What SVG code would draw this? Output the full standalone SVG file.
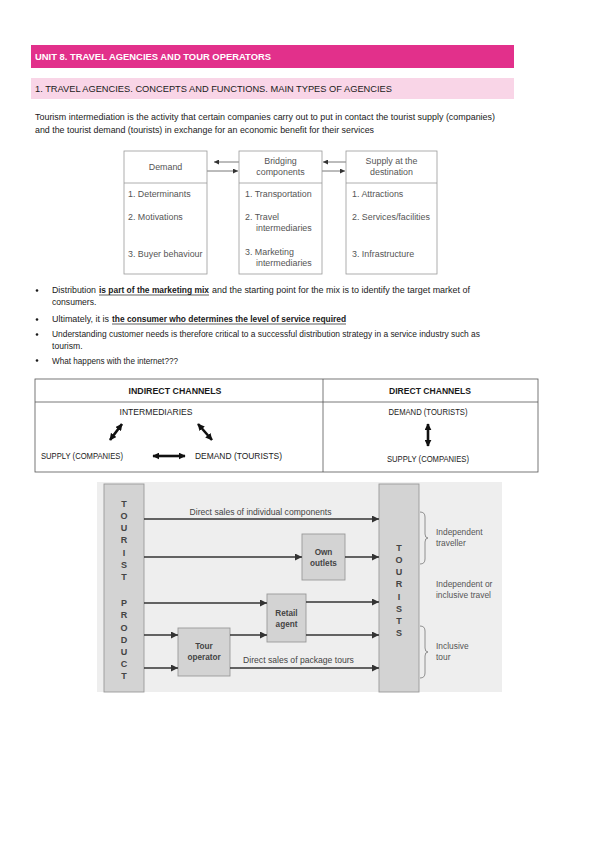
<svg xmlns="http://www.w3.org/2000/svg" width="599" height="848" viewBox="0 0 599 848">
<style>
.doc{font-family:"Liberation Sans",Arial,sans-serif;font-size:8.6px;fill:#1a1a1a}
.b{font-weight:bold}
.dg{font-family:"Liberation Sans",Arial,sans-serif;font-size:8.9px;fill:#555}
.box{fill:#fff;stroke:#999;stroke-width:0.8}
.gbox{fill:#d3d3d3;stroke:#999;stroke-width:0.9}
.gt{font-family:"Liberation Sans",Arial,sans-serif;font-size:8.6px;fill:#444;text-anchor:middle}
.rt{font-family:"Liberation Sans",Arial,sans-serif;font-size:8.4px;fill:#555}
.bt{font-family:"Liberation Sans",Arial,sans-serif;font-size:8.2px;fill:#444;font-weight:bold;text-anchor:middle}
.lt{font-family:"Liberation Sans",Arial,sans-serif;font-size:9px;fill:#444;font-weight:bold;text-anchor:middle}
.ln{stroke:#333;stroke-width:1.6;fill:none}
.tl{stroke:#555;stroke-width:0.8;fill:none}
.thick{stroke:#111;stroke-width:2.6;fill:none}
.tab{fill:none;stroke:#555;stroke-width:0.8}
</style>
<defs>
<marker id="sm" viewBox="0 0 10 10" refX="10" refY="5" markerWidth="5" markerHeight="5" orient="auto-start-reverse" markerUnits="userSpaceOnUse"><path d="M0,0L10,5L0,10z" fill="#333"/></marker>
<marker id="ar" viewBox="0 0 10 10" refX="10" refY="5" markerWidth="10" markerHeight="7" orient="auto" markerUnits="userSpaceOnUse"><path d="M0,0L10,5L0,10z" fill="#333"/></marker>
<marker id="th" viewBox="0 0 10 10" refX="9" refY="5" markerWidth="7" markerHeight="7" orient="auto-start-reverse" markerUnits="userSpaceOnUse"><path d="M0,0L10,5L0,10z" fill="#111"/></marker>
</defs>
<rect width="599" height="848" fill="#fff"/>

<g id="header1">
<rect x="31" y="45" width="483" height="23" fill="#e2308b"/>
<text x="35" y="60" class="doc b" style="fill:#fff;font-size:9px" textLength="236" lengthAdjust="spacingAndGlyphs">UNIT 8. TRAVEL AGENCIES AND TOUR OPERATORS</text>
</g>
<g id="header2">
<rect x="31" y="78" width="483" height="21" fill="#f9d5e7"/>
<text x="35" y="92" class="doc" textLength="357" lengthAdjust="spacingAndGlyphs">1. TRAVEL AGENCIES. CONCEPTS AND FUNCTIONS. MAIN TYPES OF AGENCIES</text>
</g>
<g id="intro">
<text x="35" y="120" class="doc" textLength="460" lengthAdjust="spacingAndGlyphs">Tourism intermediation is the activity that certain companies carry out to put in contact the tourist supply (companies)</text>
<text x="35" y="133" class="doc" textLength="339" lengthAdjust="spacingAndGlyphs">and the tourist demand (tourists) in exchange for an economic benefit for their services</text>
</g>

<g id="connectors-top">
<line x1="239" y1="162" x2="214" y2="162" class="tl" marker-end="url(#sm)"/>
<line x1="207" y1="171" x2="238" y2="171" class="tl" marker-end="url(#sm)"/>
<line x1="346" y1="162" x2="323" y2="162" class="tl" marker-end="url(#sm)"/>
<line x1="322" y1="171" x2="345" y2="171" class="tl" marker-end="url(#sm)"/>
</g>
<g id="demand">
<rect x="124" y="151" width="83" height="123" class="box"/>
<line x1="124" y1="183" x2="207" y2="183" class="tl" style="stroke:#999"/>
<text x="165.5" y="170" class="dg" text-anchor="middle">Demand</text>
<text x="128" y="197" class="dg">1. Determinants</text>
<text x="128" y="220" class="dg">2. Motivations</text>
<text x="128" y="257" class="dg">3. Buyer behaviour</text>
</g>
<g id="bridging">
<rect x="239" y="151" width="83" height="123" class="box"/>
<line x1="239" y1="183" x2="322" y2="183" class="tl" style="stroke:#999"/>
<text x="280.5" y="164" class="dg" text-anchor="middle">Bridging</text>
<text x="280.5" y="175" class="dg" text-anchor="middle">components</text>
<text x="245" y="197" class="dg">1. Transportation</text>
<text x="245" y="220" class="dg">2. Travel</text>
<text x="256" y="231" class="dg">intermediaries</text>
<text x="245" y="255" class="dg">3. Marketing</text>
<text x="256" y="266" class="dg">intermediaries</text>
</g>
<g id="supply">
<rect x="346" y="151" width="91" height="123" class="box"/>
<line x1="346" y1="183" x2="437" y2="183" class="tl" style="stroke:#999"/>
<text x="391.5" y="164" class="dg" text-anchor="middle">Supply at the</text>
<text x="391.5" y="175" class="dg" text-anchor="middle">destination</text>
<text x="352" y="197" class="dg">1. Attractions</text>
<text x="352" y="220" class="dg">2. Services/facilities</text>
<text x="352" y="257" class="dg">3. Infrastructure</text>
</g>

<g id="bullets">
<g fill="#1a1a1a"><circle cx="37" cy="290.5" r="1.3"/><circle cx="37" cy="319.5" r="1.3"/><circle cx="37" cy="334.5" r="1.3"/><circle cx="37" cy="360.5" r="1.3"/></g>
<text x="52" y="293" class="doc" textLength="44" lengthAdjust="spacingAndGlyphs">Distribution</text>
<text x="99" y="293" class="doc b" textLength="110" lengthAdjust="spacingAndGlyphs">is part of the marketing mix</text>
<line x1="99" y1="295" x2="209" y2="295" stroke="#1a1a1a" stroke-width="0.7"/>
<text x="212" y="293" class="doc" textLength="258" lengthAdjust="spacingAndGlyphs">and the starting point for the mix is to identify the target market of</text>
<text x="52" y="305" class="doc">consumers.</text>
<text x="52" y="322" class="doc" textLength="57" lengthAdjust="spacingAndGlyphs">Ultimately, it is</text>
<text x="112" y="322" class="doc b" textLength="234" lengthAdjust="spacingAndGlyphs">the consumer who determines the level of service required</text>
<line x1="112" y1="324" x2="346" y2="324" stroke="#1a1a1a" stroke-width="0.7"/>
<text x="52" y="337" class="doc" textLength="428" lengthAdjust="spacingAndGlyphs">Understanding customer needs is therefore critical to a successful distribution strategy in a service industry such as</text>
<text x="52" y="349" class="doc">tourism.</text>
<text x="52" y="364" class="doc" textLength="126" lengthAdjust="spacingAndGlyphs">What happens with the internet???</text>
</g>

<g id="channels-table">
<rect x="35" y="379" width="503" height="93" class="tab"/>
<line x1="35" y1="402" x2="538" y2="402" class="tab"/>
<line x1="323" y1="379" x2="323" y2="472" class="tab"/>
<text x="175" y="394" class="doc b" text-anchor="middle" textLength="93" lengthAdjust="spacingAndGlyphs">INDIRECT CHANNELS</text>
<text x="430" y="394" class="doc b" text-anchor="middle" textLength="82" lengthAdjust="spacingAndGlyphs">DIRECT CHANNELS</text>
<text x="156" y="415" class="doc" text-anchor="middle" textLength="73" lengthAdjust="spacingAndGlyphs">INTERMEDIARIES</text>
<text x="41" y="459" class="doc" textLength="82" lengthAdjust="spacingAndGlyphs">SUPPLY (COMPANIES)</text>
<text x="195" y="459" class="doc" textLength="87" lengthAdjust="spacingAndGlyphs">DEMAND (TOURISTS)</text>
<text x="428" y="415" class="doc" text-anchor="middle" textLength="79" lengthAdjust="spacingAndGlyphs">DEMAND (TOURISTS)</text>
<text x="428" y="462" class="doc" text-anchor="middle" textLength="82" lengthAdjust="spacingAndGlyphs">SUPPLY (COMPANIES)</text>
</g>
<g id="table-arrows">
<line x1="110" y1="440" x2="122" y2="424" class="thick" marker-start="url(#th)" marker-end="url(#th)"/>
<line x1="198" y1="424" x2="212" y2="440" class="thick" marker-start="url(#th)" marker-end="url(#th)"/>
<line x1="153" y1="456" x2="185" y2="456" class="thick" marker-start="url(#th)" marker-end="url(#th)"/>
<line x1="428" y1="424" x2="428" y2="446" class="thick" marker-start="url(#th)" marker-end="url(#th)"/>
</g>

<rect x="97" y="482" width="405" height="210" fill="#eeeeee"/>
<g id="tourist-product">
<rect x="104" y="484" width="40" height="208" class="gbox"/>
<g class="lt">
<text x="124" y="507">T</text><text x="124" y="519">O</text><text x="124" y="531">U</text><text x="124" y="543">R</text><text x="124" y="556">I</text><text x="124" y="568">S</text><text x="124" y="580">T</text>
<text x="124" y="606">P</text><text x="124" y="618">R</text><text x="124" y="631">O</text><text x="124" y="643">D</text><text x="124" y="655">U</text><text x="124" y="667">C</text><text x="124" y="679">T</text>
</g>
</g>
<g id="tourists">
<rect x="379" y="484" width="40" height="208" class="gbox"/>
<g class="lt">
<text x="399" y="551">T</text><text x="399" y="563">O</text><text x="399" y="575">U</text><text x="399" y="587">R</text><text x="399" y="600">I</text><text x="399" y="612">S</text><text x="399" y="624">T</text><text x="399" y="636">S</text>
</g>
</g>
<g id="own-outlets">
<rect x="302" y="534" width="43" height="46" class="gbox"/>
<text x="323.5" y="555" class="bt">Own</text>
<text x="323.5" y="566" class="bt">outlets</text>
</g>
<g id="retail-agent">
<rect x="267" y="594" width="39" height="48" class="gbox"/>
<text x="286.5" y="616" class="bt">Retail</text>
<text x="286.5" y="627" class="bt">agent</text>
</g>
<g id="tour-operator">
<rect x="178" y="628" width="52" height="48" class="gbox"/>
<text x="204" y="649" class="bt">Tour</text>
<text x="204" y="660" class="bt">operator</text>
</g>
<g id="connectors-bottom">
<line x1="144" y1="519" x2="379" y2="519" class="ln" marker-end="url(#ar)"/>
<line x1="144" y1="557" x2="302" y2="557" class="ln" marker-end="url(#ar)"/>
<line x1="345" y1="557" x2="379" y2="557" class="ln" marker-end="url(#ar)"/>
<line x1="144" y1="603" x2="267" y2="603" class="ln" marker-end="url(#ar)"/>
<line x1="306" y1="602" x2="379" y2="602" class="ln" marker-end="url(#ar)"/>
<line x1="144" y1="635" x2="178" y2="635" class="ln" marker-end="url(#ar)"/>
<line x1="230" y1="635" x2="267" y2="635" class="ln" marker-end="url(#ar)"/>
<line x1="306" y1="635" x2="379" y2="635" class="ln" marker-end="url(#ar)"/>
<line x1="144" y1="668" x2="178" y2="668" class="ln" marker-end="url(#ar)"/>
<line x1="230" y1="668" x2="379" y2="668" class="ln" marker-end="url(#ar)"/>
<text x="260.5" y="515" class="gt">Direct sales of individual components</text>
<text x="298.5" y="663" class="gt">Direct sales of package tours</text>
</g>
<g id="braces">
<path d="M420,512 Q425,512 425,517 L425,534 Q425,538 428,538 Q425,538 425,542 L425,559 Q425,564 420,564" fill="none" stroke="#777" stroke-width="0.8"/>
<path d="M420,626 Q425,626 425,631 L425,648 Q425,652 428,652 Q425,652 425,656 L425,673 Q425,678 420,678" fill="none" stroke="#777" stroke-width="0.8"/>
<text x="436" y="535" class="rt">Independent</text>
<text x="436" y="546" class="rt">traveller</text>
<text x="436" y="587" class="rt">Independent or</text>
<text x="436" y="598" class="rt">inclusive travel</text>
<text x="436" y="649" class="rt">Inclusive</text>
<text x="436" y="660" class="rt">tour</text>
</g>
</svg>
